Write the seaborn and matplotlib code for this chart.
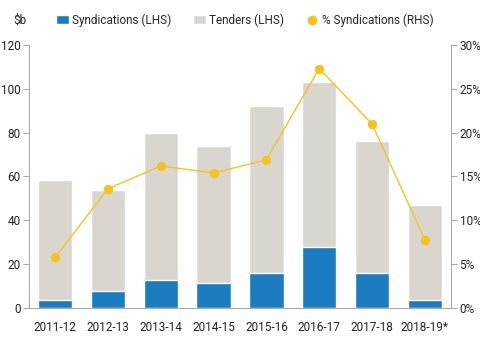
#
# Syndications vs tenders, with syndication share on the right axis
#
import numpy as np
import pandas as pd
import matplotlib
matplotlib.use('Agg')
import matplotlib.pyplot as plt
from matplotlib.lines import Line2D
from matplotlib.patches import Patch
import seaborn as sns

# Data
years = ['2011-12', '2012-13', '2013-14', '2014-15', '2015-16', '2016-17', '2017-18', '2018-19*']
synd = [3.6, 7.8, 13.0, 11.5, 16.0, 28.0, 16.0, 3.7]
tenders = [54.8, 46.1, 67.0, 62.5, 76.0, 75.0, 60.0, 43.3]
pct_synd = [5.8, 13.6, 16.2, 15.4, 16.9, 27.3, 21.0, 7.8]

blue = '#1b7dbf'
grey = '#d9d6d0'
yellow = '#f7c21c'
axcol = '#aaaaaa'

sns.set_style('white')
plt.rcParams['font.family'] = ['Roboto', 'DejaVu Sans']
myfontsize = 8.5

df = pd.DataFrame({'year': years, 'synd': synd,
                   'total': np.array(synd) + np.array(tenders), 'pct': pct_synd})

fig = plt.figure(figsize=(4.8, 3.39), dpi=100)
ax1 = fig.add_axes([0.06, 0.0914, 0.88, 0.776])

sns.barplot(data=df, x='year', y='total', color=grey, width=0.65, saturation=1, ax=ax1)
sns.barplot(data=df, x='year', y='synd', color=blue, width=0.65, saturation=1, ax=ax1)
ax1.set_ylim(0, 120)
ax1.set_yticks(np.arange(0, 121, 20))
ax1.set_xlim(-0.5, len(years) - 0.5)
ax1.set_xlabel('')
ax1.set_ylabel('')

ax2 = ax1.twinx()
sns.pointplot(data=df, x='year', y='pct', color=yellow, markers='o', markersize=6,
              linewidth=1.0, ax=ax2)
ax2.set_ylim(0, 30)
ax2.set_yticks(np.arange(0, 31, 5))
ax2.set_yticklabels([f'{v}%' for v in range(0, 31, 5)])
ax2.set_xlim(-0.5, len(years) - 0.5)
ax2.set_ylabel('')
ax2.set_xlabel('')

for ax in (ax1, ax2):
    for s in ax.spines.values():
        s.set_visible(False)
ax1.spines['left'].set_visible(True)
ax1.spines['left'].set_color(axcol)
ax1.spines['bottom'].set_visible(True)
ax1.spines['bottom'].set_color(axcol)
ax2.spines['right'].set_visible(True)
ax2.spines['right'].set_color(axcol)

# category boundary ticks on the x axis, labels at centres
ax1.set_xticks(np.arange(len(years)))
ax1.set_xticklabels(years)
ax1.set_xticks(np.arange(-0.5, len(years), 1), minor=True)
ax1.tick_params(axis='x', which='major', length=0, pad=9, labelsize=myfontsize, colors='#222222')
ax1.tick_params(axis='x', which='minor', length=4, color=axcol, direction='in')
ax1.tick_params(axis='y', left=True, length=4, labelsize=myfontsize,
                colors='#222222', pad=2)
ax1.tick_params(axis='y', color=axcol)
ax2.tick_params(axis='y', right=True, length=4, labelsize=myfontsize,
                colors='#222222', pad=2)
ax2.tick_params(axis='y', color=axcol)
ax1.grid(False)
ax2.grid(False)

# legend on top
fig.text(0.028, 0.94, '$b', fontsize=myfontsize, color='#222222', va='center')
handles = [Patch(facecolor=blue, label='Syndications (LHS)'),
           Patch(facecolor=grey, label='Tenders (LHS)'),
           Line2D([], [], color=yellow, marker='o', linestyle='', markersize=6,
                  label='% Syndications (RHS)')]
fig.legend(handles=handles, loc='center', bbox_to_anchor=(0.51, 0.94), ncol=3,
           frameon=False, fontsize=myfontsize, handlelength=1.1, handleheight=0.8,
           handletextpad=0.3, columnspacing=1.8, borderaxespad=0)

plt.savefig('out.png', dpi=100)
plt.close()
